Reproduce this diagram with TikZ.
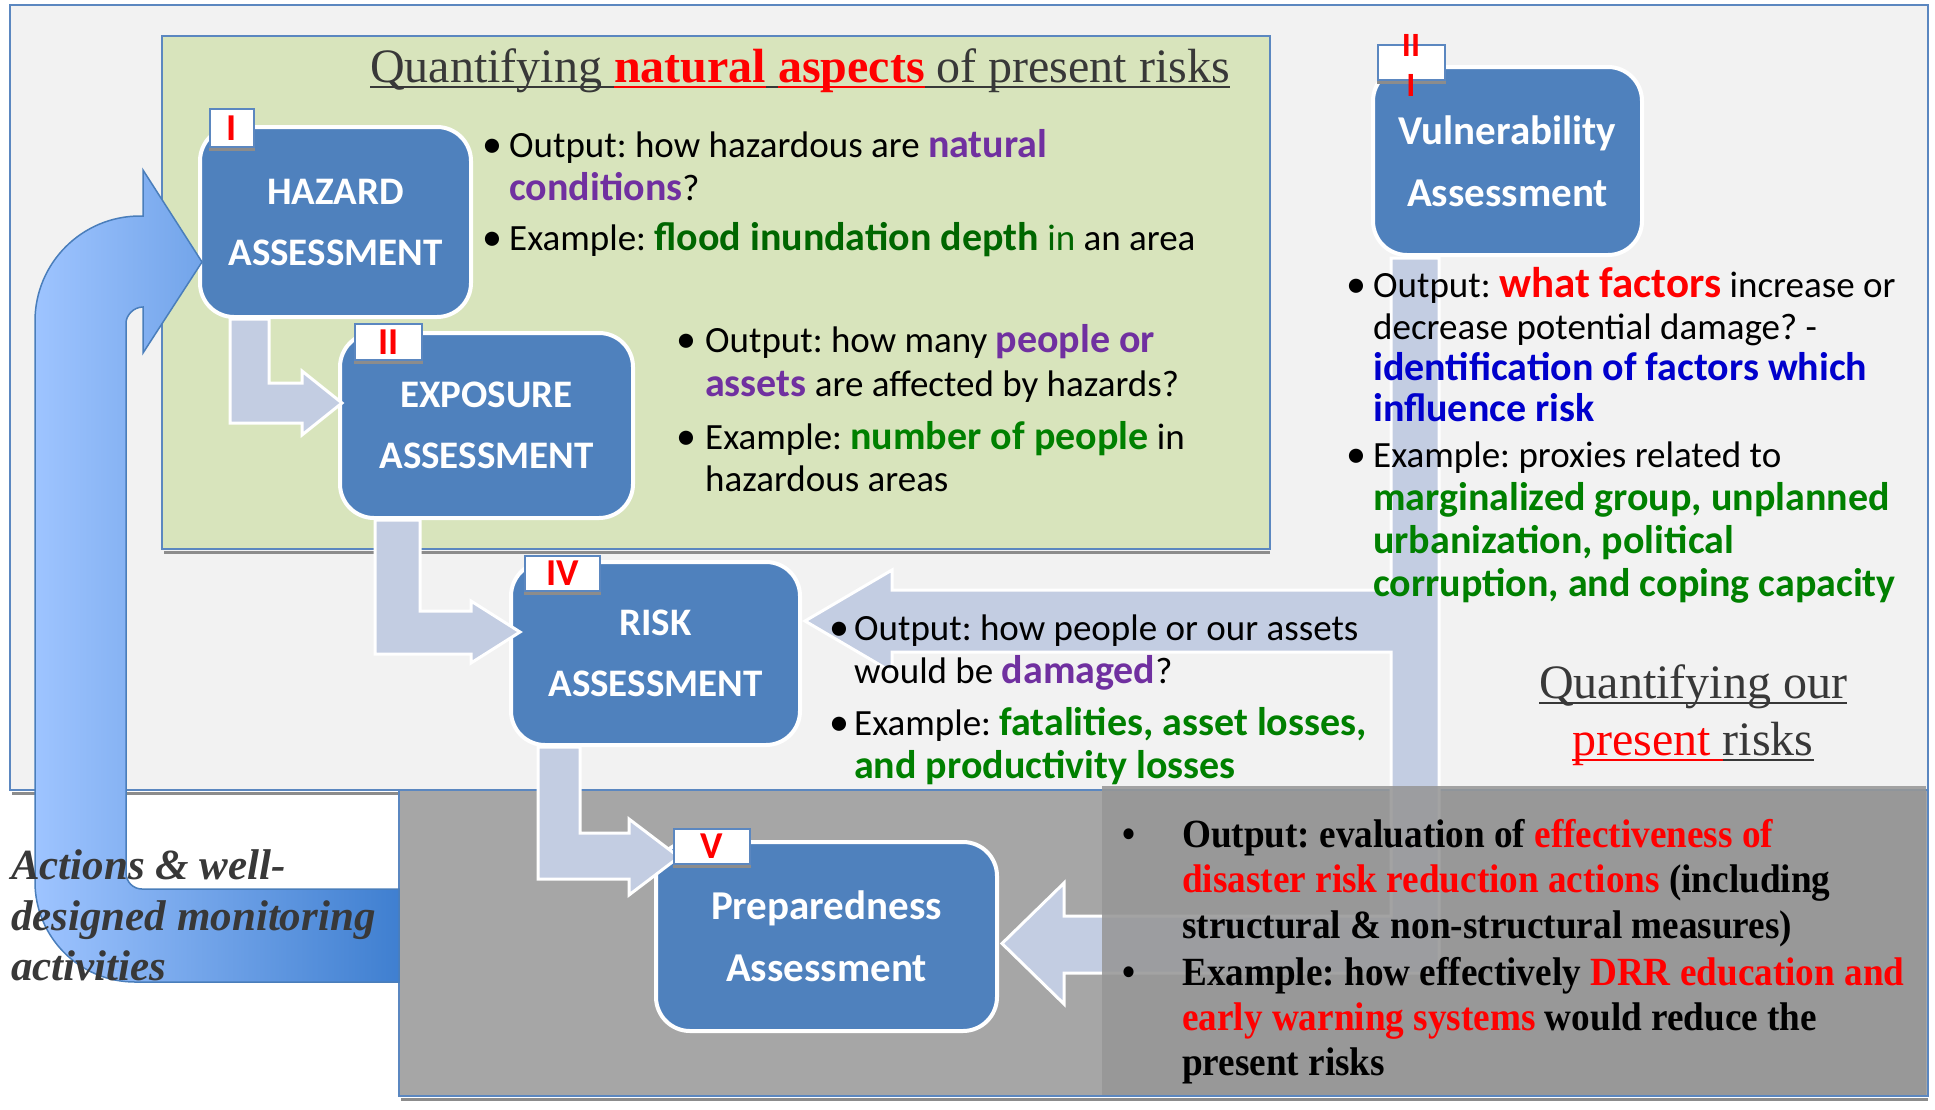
\documentclass[tikz,border=0pt]{standalone}
\usepackage{fontspec}
\setmainfont{Carlito}
\newfontfamily\tnr{Liberation Serif}
\newfontfamily\tnrc[FakeStretch=0.93]{Liberation Serif}
\usetikzlibrary{calc}
\frenchspacing
\definecolor{boxblue}{HTML}{4F81BD}
\definecolor{lineblue}{HTML}{5B87C0}
\definecolor{steel}{HTML}{C3CDE2}
\definecolor{greenbg}{HTML}{D8E4BC}
\definecolor{framebg}{HTML}{F2F2F2}
\definecolor{graybg}{HTML}{A6A6A6}
\definecolor{texbg}{HTML}{979797}
\definecolor{hpurple}{HTML}{7030A0}
\definecolor{hgreen}{HTML}{008000}
\definecolor{hdgreen}{HTML}{006600}
\definecolor{hblue}{HTML}{0000CC}
\definecolor{tgray}{HTML}{383838}
\definecolor{arrlight}{HTML}{9EC4FF}
\definecolor{arrmid}{HTML}{82ABEE}
\definecolor{arrdark}{HTML}{3F7FD0}
\definecolor{arredge}{HTML}{4A7EBB}
\definecolor{shadowgray}{HTML}{8C8C8C}
\newcommand\myul[1]{\setbox0=\hbox{#1}\rlap{\rule[-6pt]{\wd0}{2.5pt}}\box0}
\newcommand\hlt[2]{{\color{#1}\fontsize{40}{42}\selectfont\bfseries #2}}
\begin{document}
\begin{tikzpicture}[x=1pt,y=-1pt,
  box/.style={rounded corners=34pt, fill=boxblue, draw=white, line width=4pt, text=white,
    font=\fontsize{39}{61}\selectfont\bfseries, align=center, inner sep=0pt},
  bigbox/.style={box, font=\fontsize{41}{62}\selectfont\bfseries},
  tab/.style={fill=white, draw=lineblue, line width=1.5pt, text=red,
    font=\fontsize{38}{38}\selectfont\bfseries, inner sep=0pt},
  tabsh/.style={draw=shadowgray, line width=3pt},
  blk/.style={fill=steel, draw=white, line width=3pt, line join=miter},
  txt/.style={anchor=base west, inner sep=0pt, font=\fontsize{37}{42}\selectfont},
  bul/.style={anchor=base, inner sep=0pt, font=\fontsize{40}{42}\selectfont},
  ptxt/.style={anchor=base west, inner sep=0pt, font=\tnrc\bfseries\fontsize{40}{46}\selectfont},
  ttl/.style={anchor=base, inner sep=0pt, text=tgray, font=\tnr\fontsize{48}{48}\selectfont},
  act/.style={anchor=base west, inner sep=0pt, text=tgray, font=\tnr\bfseries\itshape\fontsize{43}{51}\selectfont},
]
\useasboundingbox (0,0) rectangle (1935,1109);
\fill[white] (0,0) rectangle (1935,1109);
% frames
\filldraw[fill=framebg, draw=lineblue, line width=2pt] (10,5) rectangle (1928,790);
\draw[shadowgray, line width=3pt] (12,793) -- (1928,793);
\filldraw[fill=graybg, draw=lineblue, line width=2pt] (399,790) rectangle (1928,1096);
\draw[shadowgray, line width=3pt] (401,1099) -- (1928,1099);
\filldraw[fill=greenbg, draw=lineblue, line width=2pt] (162,36) rectangle (1270,549);
\draw[shadowgray, line width=3pt] (164,552) -- (1270,552);
% titles
\node[ttl] (title1) at (800,82) {\myul{Quantifying\ }{\color{red}\myul{\bfseries natural}}\myul{\ }{\color{red}\myul{\bfseries aspects}}\myul{\ of present risks}};
\node[ttl] (title2a) at (1693,698) {\myul{Quantifying our}};
\node[ttl] (title2b) at (1693,755) {{\color{red}\myul{present\ }}\myul{risks}};
% boxes
\node[box, minimum width=271, minimum height=190] (haz) at (335.5,222) {HAZARD\\ASSESSMENT};
\node[box, minimum width=293, minimum height=185] (expo) at (486.5,425.5) {EXPOSURE\\ASSESSMENT};
\node[box, minimum width=289, minimum height=183] (risk) at (655.5,653.5) {RISK\\ASSESSMENT};
\node[bigbox, minimum width=341, minimum height=189] (prep) at (826.5,936.5) {Preparedness\\Assessment};
\node[bigbox, minimum width=269, minimum height=188] (vuln) at (1507.5,161) {Vulnerability\\Assessment};
% block arrows
\path[blk] (230,319) -- (269,319) -- (269,383) -- (302,383) -- (302,371) -- (342,403) -- (302,435) -- (302,423) -- (230,423) -- cycle;
\path[blk] (375,520) -- (420,520) -- (420,611) -- (471,611) -- (471,601) -- (520,632) -- (471,663) -- (471,654) -- (375,654) -- cycle;
\path[blk] (538,747) -- (580,747) -- (580,833) -- (629,833) -- (629,819) -- (679,857) -- (629,895) -- (629,879) -- (538,879) -- cycle;
\path[blk] (1391,258) -- (1439,258) -- (1439,973) -- (1064,973) -- (1064,1004) -- (1002,943.5) -- (1064,883) -- (1064,916) -- (1391,916) -- (1391,652) -- (892,652) -- (892,672) -- (805,621) -- (892,570) -- (892,590) -- (1391,590) -- cycle;
% tabs
\node[tab, minimum width=44, minimum height=38] (tI) at (232,128) {I};
\draw[tabsh] ([yshift=-2]tI.south west) -- ([yshift=-2]tI.south east);
\node[tab, minimum width=67, minimum height=36] (tII) at (388.5,342) {II};
\draw[tabsh] ([yshift=-2]tII.south west) -- ([yshift=-2]tII.south east);
\node[tab, minimum width=75, minimum height=35] (tIV) at (562.5,573.5) {IV};
\draw[tabsh] ([yshift=-2]tIV.south west) -- ([yshift=-2]tIV.south east);
\node[tab, minimum width=76, minimum height=35] (tV) at (712,846.5) {V};
\draw[tabsh] ([yshift=-2]tV.south west) -- ([yshift=-2]tV.south east);
\node[tab, minimum width=67, minimum height=35] (tIII) at (1411.5,62.5) {};
\draw[tabsh] ([yshift=-2]tIII.south west) -- ([yshift=-2]tIII.south east);
\node[anchor=base, inner sep=0pt, text=red, font=\fontsize{34}{34}\selectfont\bfseries] (tIIIa) at (1411,56) {II};
\node[anchor=base, inner sep=0pt, text=red, font=\fontsize{34}{34}\selectfont\bfseries] (tIIIb) at (1411,96) {I};
% textured overlay
\fill[texbg, opacity=0.88] (1102,786) rectangle (1926,1095);
% big monitoring arrow
\shadedraw[left color=arrlight, middle color=arrmid, right color=arrdark, draw=arredge, line width=1.5pt]
  (399,982) -- (135,982) .. controls (79.8,982) and (35,937.2) .. (35,882) -- (35,321)
  .. controls (35,263) and (82,216) .. (140,216) -- (143,216) -- (143,170) -- (202,262)
  -- (143,353) -- (143,307) .. controls (133.2,307) and (126,315.8) .. (126,323) -- (126,873)
  .. controls (126,881.8) and (133.2,889) .. (142,889) -- (399,889) -- cycle;
\node[act] (act1) at (11,879) {Actions \& well-};
\node[act] (act2) at (11,930) {designed monitoring};
\node[act] (act3) at (11,980) {activities};
% hazard text
\node[bul] (hb1) at (492,157) {•};
\node[txt] (h1) at (509,157) {Output: how hazardous are \hlt{hpurple}{natural}};
\node[txt] (h2) at (509,200) {\hlt{hpurple}{conditions}?};
\node[bul] (hb2) at (492,250) {•};
\node[txt] (h3) at (509,250) {Example: \hlt{hdgreen}{flood inundation depth} {\color{hdgreen}in} an area};
% exposure text
\node[bul] (eb1) at (686,352) {•};
\node[txt] (e1) at (705,352) {Output: how many \hlt{hpurple}{people or}};
\node[txt] (e2) at (705,396) {\hlt{hpurple}{assets} are affected by hazards?};
\node[bul] (eb2) at (686,449) {•};
\node[txt] (e3) at (705,449) {Example: \hlt{hgreen}{number of people} in};
\node[txt] (e4) at (705,491) {hazardous areas};
% vulnerability text
\node[bul] (vb1) at (1356,297) {•};
\node[txt] (v1) at (1373,297) {Output: {\color{red}\fontsize{43}{42}\selectfont\bfseries what factors} increase or};
\node[txt] (v2) at (1373,339) {decrease potential damage? -};
\node[txt] (v3) at (1373,380) {\hlt{hblue}{identification of factors which}};
\node[txt] (v4) at (1373,421) {\hlt{hblue}{influence risk}};
\node[bul] (vb2) at (1356,467) {•};
\node[txt] (v5) at (1373,467) {Example: proxies related to};
\node[txt] (v6) at (1373,510) {\hlt{hgreen}{marginalized group, unplanned}};
\node[txt] (v7) at (1373,553) {\hlt{hgreen}{urbanization, political}};
\node[txt] (v8) at (1373,596) {\hlt{hgreen}{corruption, and coping capacity}};
% risk text
\node[bul] (rb1) at (839,640) {•};
\node[txt] (r1) at (854,640) {Output: how people or our assets};
\node[txt] (r2) at (854,683) {would be \hlt{hpurple}{damaged}?};
\node[bul] (rb2) at (839,735) {•};
\node[txt] (r3) at (854,735) {Example: \hlt{hgreen}{fatalities, asset losses,}};
\node[txt] (r4) at (854,778) {\hlt{hgreen}{and productivity losses}};
% preparedness text
\node[ptxt] (pb1) at (1122,847) {•};
\node[ptxt] (p1) at (1182,847) {Output: evaluation of {\color{red}effectiveness of}};
\node[ptxt] (p2) at (1182,892) {{\color{red}disaster risk reduction actions} (including};
\node[ptxt] (p3) at (1182,938) {structural \& non-structural measures)};
\node[ptxt] (pb2) at (1122,985) {•};
\node[ptxt] (p4) at (1182,985) {Example: how effectively {\color{red}DRR education and}};
\node[ptxt] (p5) at (1182,1030) {{\color{red}early warning systems} would reduce the};
\node[ptxt] (p6) at (1182,1075) {present risks};
\end{tikzpicture}
\end{document}
